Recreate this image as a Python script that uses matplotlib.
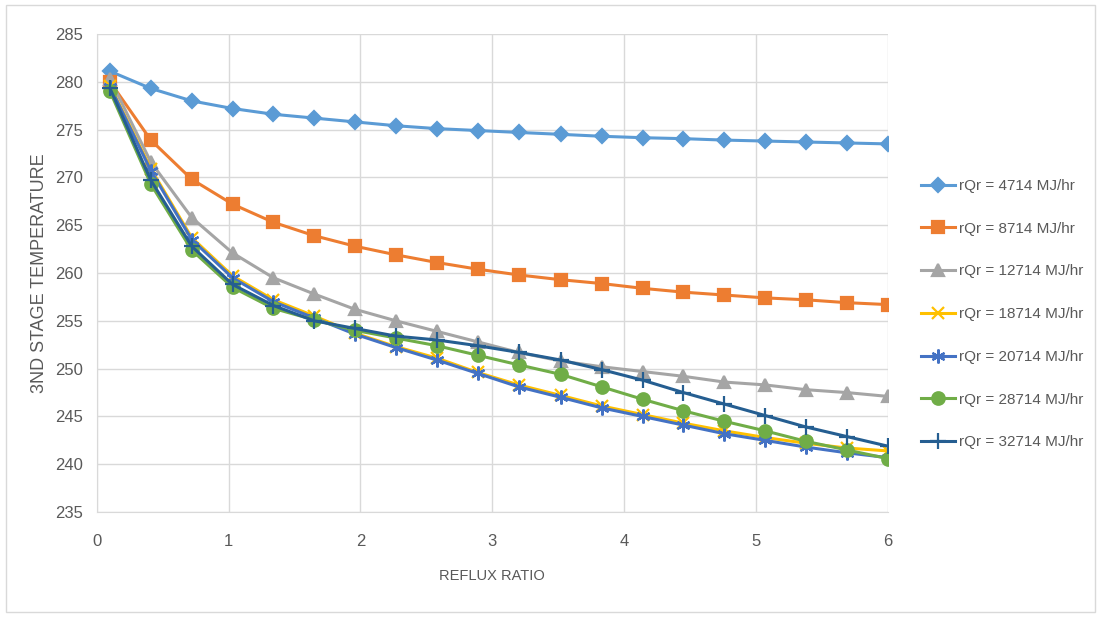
import matplotlib

matplotlib.use("Agg")
import matplotlib.pyplot as plt
from matplotlib.patches import Rectangle

plt.rcParams["font.family"] = ["Liberation Sans", "DejaVu Sans"]

# reflux ratio (x) shared by all series
reflux = [0.1, 0.41, 0.72, 1.03, 1.34, 1.65, 1.96, 2.27, 2.58, 2.89,
          3.2, 3.52, 3.83, 4.14, 4.45, 4.76, 5.07, 5.38, 5.69, 6.0]

t_4714 = [281.1, 279.3, 278.0, 277.2, 276.6, 276.2, 275.8, 275.4, 275.1, 274.9,
          274.7, 274.5, 274.3, 274.15, 274.05, 273.9, 273.8, 273.7, 273.6, 273.5]
t_8714 = [280.0, 273.9, 269.8, 267.2, 265.3, 263.9, 262.8, 261.9, 261.1, 260.4,
          259.8, 259.3, 258.9, 258.4, 258.0, 257.7, 257.4, 257.2, 256.9, 256.7]
t_12714 = [280.3, 271.6, 265.8, 262.1, 259.5, 257.8, 256.2, 255.0, 253.9, 252.8,
           251.7, 250.8, 250.2, 249.7, 249.2, 248.6, 248.3, 247.8, 247.5, 247.1]
t_18714 = [279.6, 270.9, 263.7, 259.7, 257.2, 255.5, 253.7, 252.3, 251.1, 249.6,
           248.3, 247.2, 246.1, 245.2, 244.3, 243.5, 242.8, 242.2, 241.7, 241.4]
t_20714 = [279.5, 270.7, 263.5, 259.5, 257.0, 255.3, 253.6, 252.2, 250.9, 249.5,
           248.1, 247.0, 245.9, 245.0, 244.1, 243.2, 242.5, 241.8, 241.2, 240.7]
t_28714 = [279.0, 269.3, 262.4, 258.5, 256.3, 255.1, 254.0, 253.2, 252.4, 251.4,
           250.4, 249.4, 248.1, 246.8, 245.6, 244.5, 243.5, 242.4, 241.5, 240.6]
t_32714 = [279.3, 269.7, 262.8, 258.8, 256.6, 255.0, 254.2, 253.4, 253.0, 252.4,
           251.7, 250.9, 249.9, 248.8, 247.5, 246.3, 245.1, 243.9, 242.9, 241.9]

labels = ["rQr = 4714 MJ/hr", "rQr = 8714 MJ/hr", "rQr = 12714 MJ/hr",
          "rQr = 18714 MJ/hr", "rQr = 20714 MJ/hr", "rQr = 28714 MJ/hr",
          "rQr = 32714 MJ/hr"]
series = [t_4714, t_8714, t_12714, t_18714, t_20714, t_28714, t_32714]

colors = ["#5B9BD5", "#ED7D31", "#A5A5A5", "#FFC000", "#4472C4", "#70AD47", "#255E91"]
markers = ["D", "s", "^", "x", (6, 2, 0), "o", "+"]
msizes = [7.5, 9, 8, 8, 10, 9, 11]

fig = plt.figure(figsize=(11, 6.17), dpi=100)
ax = fig.add_axes([0.088, 0.170, 0.719, 0.775])

for y, lab, c, m, ms in zip(series, labels, colors, markers, msizes):
    ax.plot(reflux, y, color=c, lw=2.2, marker=m, markersize=ms,
            markeredgewidth=1.6, markeredgecolor=c, label=lab)

ax.set_xlim(0, 6)
ax.set_ylim(235, 285)
ax.set_xticks(range(0, 7))
ax.set_yticks(range(235, 286, 5))
ax.grid(True, color="#D9D9D9", lw=1)
ax.set_axisbelow(True)
for s in ax.spines.values():
    s.set_visible(False)
ax.spines["left"].set_visible(True)
ax.spines["left"].set_color("#D9D9D9")
ax.spines["bottom"].set_visible(True)
ax.spines["bottom"].set_color("#D9D9D9")
ax.tick_params(length=0, labelsize=12, labelcolor="#595959")
ax.tick_params(axis="x", pad=16)
ax.tick_params(axis="y", pad=10)

ax.set_xlabel("REFLUX RATIO", fontsize=10.5, color="#595959", labelpad=14)
ax.set_ylabel("3ND STAGE TEMPERATURE", fontsize=13, color="#595959", labelpad=5)

leg = ax.legend(loc="center left", bbox_to_anchor=(1.025, 0.414), frameon=False,
                fontsize=11, labelcolor="#595959", labelspacing=1.88,
                handlelength=2.2, handletextpad=0.3)

fig.patches.append(Rectangle((0.005, 0.008), 0.99, 0.984, transform=fig.transFigure,
                             fill=False, edgecolor="#D9D9D9", lw=1))

fig.savefig("out.png", dpi=100)
